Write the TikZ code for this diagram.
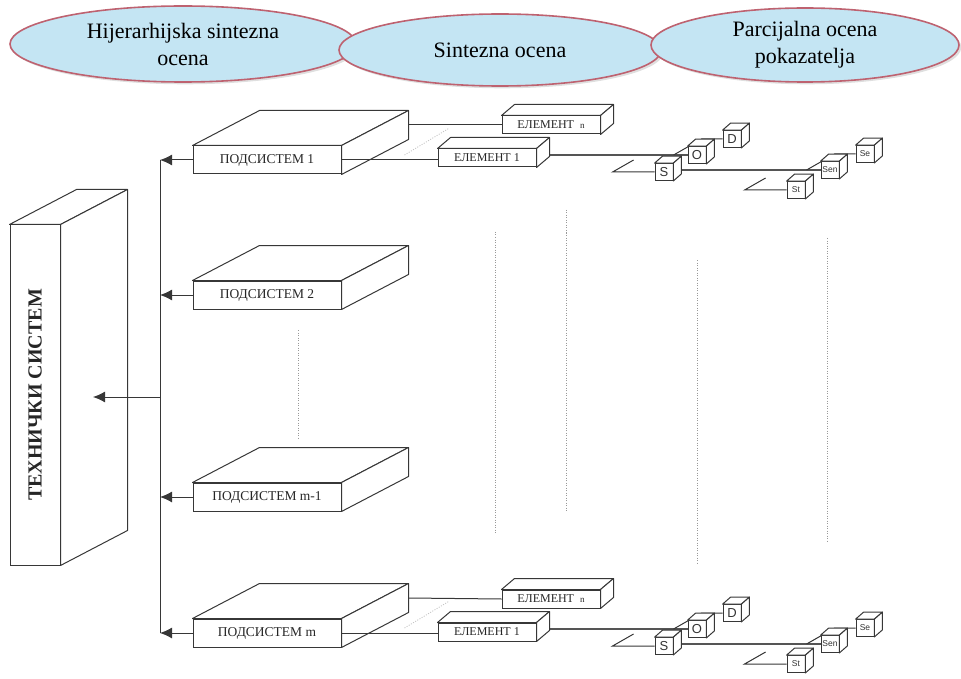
\documentclass[tikz,border=0pt]{standalone}
\usepackage{fontspec}
\setmainfont{Liberation Serif}
\newfontfamily\cubefont{Liberation Sans}
\usetikzlibrary{calc,arrows.meta,shapes.geometric,shadows,backgrounds}
\definecolor{ovalfill}{RGB}{196,229,243}
\definecolor{ovalline}{RGB}{190,98,112}
\definecolor{wire}{RGB}{55,55,55}

% top and right faces of a box whose front face is the node #1
\newcommand{\boxfaces}[3]{%
  \filldraw[wire, fill=white, line width=1pt, line join=round] (#1.north west) -- ++(#2,#3) -- ($(#1.north east)+(#2,#3)$) -- (#1.north east) -- cycle;
  \filldraw[wire, fill=white, line width=1pt, line join=round] (#1.north east) -- ++(#2,#3) -- ($(#1.south east)+(#2,#3)$) -- (#1.south east) -- cycle;
}

\begin{document}
\begin{tikzpicture}[x=1pt, y=-1pt,
    oval/.style={ellipse, draw=ovalline, line width=1.6pt, fill=ovalfill, drop shadow={opacity=0.25}, align=center, inner sep=0pt, font=\fontsize{22}{27}\selectfont},
    slab/.style={draw=wire, fill=white, line width=1pt, minimum width=148pt, minimum height=28pt, inner sep=0pt, text=black!85, font=\fontsize{13.5}{15}\selectfont},
    elem/.style={slab, minimum width=98pt, minimum height=18pt, font=\fontsize{12}{13}\selectfont},
    cube/.style={draw=wire, fill=white, line width=0.8pt, minimum width=18pt, minimum height=17pt, inner sep=0pt, text=black!80, font=\cubefont\fontsize{13}{13}\selectfont},
    small/.style={font=\cubefont\fontsize{8.5}{8.5}\selectfont},
    link/.style={draw=wire, line width=1pt},
    axis/.style={draw=wire!85, line width=2.6pt},
    feed/.style={link, -{Latex[length=12pt,width=11pt]}},
    guide/.style={draw=black!40, line width=0.8pt, dash pattern=on 1pt off 1.5pt}]

    \useasboundingbox (0,0) rectangle (961,679);

    % Evaluation levels
    \node[oval, minimum width=346pt, minimum height=76pt] (hso) at (183,44) {Hijerarhijska sintezna\\ocena};
    \node[oval, minimum width=322pt, minimum height=72pt] (so) at (500,50) {Sintezna ocena};
    \node[oval, minimum width=308pt, minimum height=74pt] (pop) at (805,45) {Parcijalna ocena\\pokazatelja};

    % Technical system
    \node[slab, minimum width=50pt, minimum height=340pt] (ts) at (35,395) {};
    \boxfaces{ts}{67}{-35}
    \node[rotate=90, text=black!85, font=\bfseries\fontsize{20}{22}\selectfont] (tslabel) at (ts.center) {ТЕХНИЧКИ СИСТЕМ};

    % Subsystems and the bus
    \coordinate (b1) at (160,160);
    \coordinate (b4) at (160,633);
    \coordinate (bm) at (160,397);
    \coordinate (tsin) at (93,397);
    \draw[link] (b1) -- (b4);
    \draw[feed] (bm) -- (tsin);
    \foreach \name/\y/\txt in {p1/160/ПОДСИСТЕМ 1, p2/295/ПОДСИСТЕМ 2, p3/497/ПОДСИСТЕМ m-1, p4/633/ПОДСИСТЕМ m} {
      \node[slab] (\name) at (267,\y) {\txt};
      \boxfaces{\name}{67}{-35}
      \draw[feed] (\name.west) -- (\name.west -| b1);
    }
    \draw[guide] (298,330) -- (298,440);

    % Elements and their indicators
    \foreach \g/\s/\p in {a/0/p1, b/474/p4} {
      \begin{scope}[yshift=-\s pt]
        \node[elem] (\g en) at (551,125) {ЕЛЕМЕНТ \ {\fontsize{9}{9}\selectfont n}};
        \node[elem] (\g e1) at (487,158) {ЕЛЕМЕНТ 1};
        \node[cube] (\g S) at (664,172) {S};
        \node[cube] (\g O) at (697,155) {O};
        \node[cube] (\g D) at (732,139) {D};
        \node[cube, small] (\g St) at (796,190) {St};
        \node[cube, small] (\g Sn) at (830,170) {Sen};
        \node[cube, small] (\g Se) at (865,154) {Se};
        \begin{pgfonlayer}{background}
          \draw[axis] ($(\g e1.east)+(6.5,-3)$) -- (\g O.west);
          \draw[link] ($(\g O.west)+(-14,0)$) -- ++(28,-16) -- (\g D.west);
          \draw[link] (\g S.west) -- ++(-42,0) -- ++(21,-12);
          \draw[axis] ($(\g S.east)+(3.5,-2)$) -- (\g Sn.west);
          \draw[link] ($(\g Sn.west)+(-14,0)$) -- ++(28,-16) -- (\g Se.west);
          \draw[link] (\g St.west) -- ++(-42,0) -- ++(21,-12);
        \end{pgfonlayer}
        \foreach \c in {en,e1} {\boxfaces{\g\c}{13}{-11}}
        \foreach \c in {S,O,D,St,Sn,Se} {\boxfaces{\g\c}{8}{-7}}
      \end{scope}
      \draw[link] ($(\p.east)+(67,-35)$) -- (\g en.west);
      \draw[link] (\p.east) -- (\p.east -| \g e1.west);
      \draw[guide, draw=black!25] ($(\p.east)+(63,-5)$) -- ($(\p.east)+(108,-32)$);
    }

    % Dotted continuation lines
    \draw[guide] (495,232) -- (495,533);
    \draw[guide] (566,210) -- (566,512);
    \draw[guide] (697,260) -- (697,563);
    \draw[guide] (827,238) -- (827,541);

\end{tikzpicture}
\end{document}
